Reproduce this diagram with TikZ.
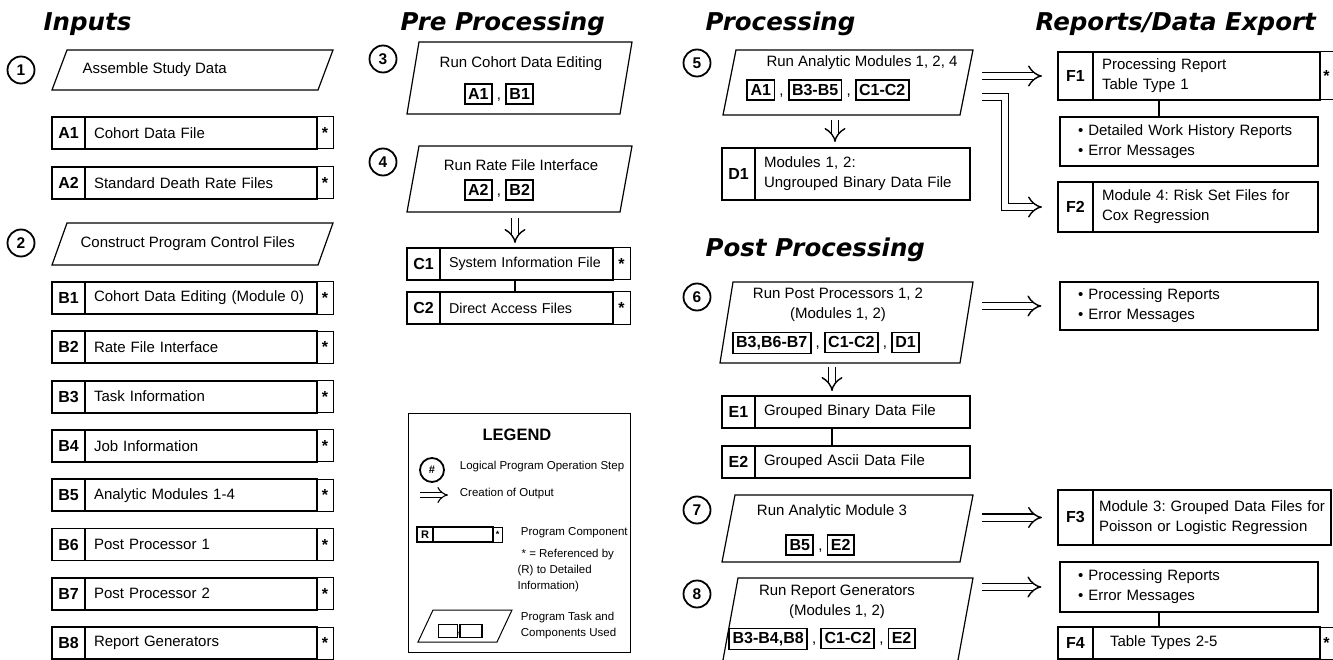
\documentclass[tikz,border=0pt]{standalone}
\usepackage{fontspec}
\setmainfont{Liberation Sans}
\newfontfamily\headfont{DejaVu Sans}[BoldFont={DejaVu Sans Bold},BoldItalicFont={DejaVu Sans Bold Oblique}]
\usetikzlibrary{arrows.meta,positioning}
\frenchspacing

\newcommand\bodyfont{\fontsize{15}{20}\selectfont}
\newcommand\labfont{\fontsize{16}{18}\selectfont\bfseries}
\newcommand\titlefont{\headfont\fontsize{24.5}{26}\selectfont\bfseries\itshape}
\newcommand\legfont{\fontsize{11.5}{16}\selectfont}
\newcommand\stepfont{\fontsize{15.5}{15.5}\selectfont\bfseries}
\setlength\fboxrule{1.7pt}
\setlength\fboxsep{2.5pt}
\newcommand\refb[1]{\fbox{\labfont\rule[-1.5pt]{0pt}{13.5pt}#1}}

\begin{document}
\begin{tikzpicture}[x=1pt,y=-1pt,line width=1.2pt,
  every node/.style={font=\bodyfont},
  colhead/.style={font=\titlefont,inner sep=0pt,anchor=base west},
  stepc/.style={circle,draw,line width=1.8pt,minimum size=27pt,inner sep=0pt,font=\stepfont},
  para/.style={line width=1.2pt,line join=miter},
  lab/.style={draw,line width=1.8pt,outer sep=0pt,inner sep=0pt,minimum width=33pt,minimum height=#1,font=\labfont},
  lab/.default=32pt,
  cell/.style={draw,line width=1.8pt,outer sep=0pt,inner xsep=9pt,inner ysep=0pt,text width=#1,align=left,minimum height=32pt},
  starc/.style={draw,line width=1pt,outer sep=0pt,inner sep=0pt,minimum width=16pt,minimum height=#1,font=\labfont},
  starc/.default=32pt,
  lst/.style={draw,line width=1.2pt,inner xsep=18pt,text width=222pt,align=left,minimum height=#1},
  dbl/.style={double,double distance=6pt,line width=1.4pt,-{Implies}}]
\fill[white] (0,0) rectangle (1333,660);
\useasboundingbox (0,0) rectangle (1333,660);
% 标题
\node[colhead] (hIn) at (43,31) {Inputs};
\node[colhead] (hPre) at (400,31) {Pre Processing};
\node[colhead] (hPro) at (705,31) {Processing};
\node[colhead] (hRep) at (1035,31) {Reports/Data Export};
\node[colhead] (hPost) at (705,257) {Post Processing};
% 输入
\node[stepc] (s1) at (21,70) {1};
\draw[para] (52,90) -- (67,50) -- (333,50) -- (318,90) -- cycle;
\node[anchor=west,inner sep=0pt] (t1) at (82,70) {Assemble Study Data};
\node[lab] (A1) at (68.5,133) {A1};
\node[cell=214pt,right=0pt of A1] (tA1) {Cohort Data File};
\node[starc,right=0pt of tA1] (sA1) {*};
\node[lab] (A2) at (68.5,183) {A2};
\node[cell=214pt,right=0pt of A2] (tA2) {Standard Death Rate Files};
\node[starc,right=0pt of tA2] (sA2) {*};
\node[stepc] (s2) at (21,243) {2};
\draw[para] (52,265) -- (67,223) -- (333,223) -- (318,265) -- cycle;
\node[anchor=west,inner sep=0pt] (t2) at (80,244) {Construct Program Control Files};
\foreach \i/\txt in {1/Cohort Data Editing (Module 0),2/Rate File Interface,
    3/Task Information,4/Job Information,5/Analytic Modules 1-4,
    6/Post Processor 1,7/Post Processor 2,8/Report Generators}{
  \node[lab] (B\i) at (68.5,{298+49.3*(\i-1)}) {B\i};
  \node[cell=214pt,right=0pt of B\i] (tB\i) {\txt};
  \node[starc,right=0pt of tB\i] (sB\i) {*};
}
% 预处理
\node[stepc] (s3) at (383,59) {3};
\draw[para] (407,114) -- (419,42) -- (632,42) -- (620,114) -- cycle;
\node (t3) at (521,64) {Run Cohort Data Editing};
\node (r3) at (499,94) {\refb{A1} , \refb{B1}};
\node[stepc] (s4) at (383,162) {4};
\draw[para] (407,212) -- (419,146) -- (632,146) -- (620,212) -- cycle;
\node (t4) at (521,165) {Run Rate File Interface};
\node (r4) at (499,190) {\refb{A2} , \refb{B2}};
\coordinate (d4) at (515,218);
\node[lab] (C1) at (423.5,264) {C1};
\node[cell=155pt,font=\fontsize{14.3}{19}\selectfont,right=0pt of C1] (tC1) {\mbox{System Information File}};
\node[starc,minimum width=17pt,right=0pt of tC1] (sC1) {*};
\node[lab] (C2) at (423.5,308) {C2};
\node[cell=155pt,font=\fontsize{14.3}{19}\selectfont,right=0pt of C2] (tC2) {Direct Access Files};
\node[starc,minimum width=17pt,right=0pt of tC2] (sC2) {*};
\draw[dbl,shorten >=5pt] (d4) -- (d4 |- tC1.north);
\draw (tC1.south -| d4) -- (tC2.north -| d4);
% 图例
\draw[line width=1pt] (408,413) rectangle (630,652);
\node[font=\fontsize{16.5}{18}\selectfont\bfseries] (lgT) at (517,435) {LEGEND};
\node[stepc,minimum size=24pt,font=\fontsize{11}{11}\selectfont\bfseries] (lgS) at (432,470) {\#};
\node[anchor=west,font=\legfont] (lg1) at (456,467) {Logical Program Operation Step};
\coordinate (lgA) at (420,495);
\coordinate (lgB) at (448,495);
\draw[dbl,double distance=4.5pt,line width=1.1pt] (lgA) -- (lgB);
\node[anchor=west,font=\legfont] (lg2) at (456,494) {Creation of Output};
\node[lab=15pt,minimum width=16pt,line width=1.4pt,font=\fontsize{11}{11}\selectfont\bfseries] (lgR) at (425,534.5) {R};
\node[cell=44pt,minimum height=15pt,inner xsep=8pt,line width=1.2pt,right=0pt of lgR] (lgM) {};
\node[starc=15pt,minimum width=9pt,line width=0.8pt,font=\fontsize{9}{9}\selectfont\bfseries,right=0pt of lgM] (lgX) {*};
\node[anchor=west,font=\legfont] (lg3) at (517,533) {Program Component};
\node[anchor=north west,font=\legfont,align=left,inner sep=0pt] (lg4) at (517,549) {\hspace*{4pt}* = Referenced by\\(R) to Detailed\\Information)};
\draw[para,line width=1pt] (418,642) -- (433,610) -- (512,610) -- (497,642) -- cycle;
\node[draw,line width=1.4pt,minimum width=19pt,minimum height=13pt,inner sep=0pt] (lgQ1) at (448,631) {};
\node[font=\legfont,inner sep=0pt] (lgC) at (459,634) {,};
\node[draw,line width=1.4pt,minimum width=22pt,minimum height=13pt,inner sep=0pt] (lgQ2) at (471,631) {};
\node[anchor=west,font=\legfont,align=left] (lg5) at (517,626) {Program Task and\\Components Used};
% 处理
\node[stepc] (s5) at (697,63) {5};
\draw[para] (723,115) -- (736,50) -- (973,50) -- (960,115) -- cycle;
\node (t5) at (862,63) {Run Analytic Modules 1, 2, 4};
\node (r5) at (828,90) {\refb{A1} , \refb{B3-B5} , \refb{C1-C2}};
\coordinate (d5) at (835,120);
\node[lab=52pt] (D1) at (738.5,174) {D1};
\node[cell=197pt,minimum height=52pt,right=0pt of D1] (tD1) {Modules 1, 2:\\Ungrouped Binary Data File};
\draw[dbl,shorten >=6pt] (d5) -- (d5 |- tD1.north);
% 后处理
\node[stepc] (s6) at (697,297) {6};
\draw[para] (720,363) -- (733,282) -- (973,282) -- (960,363) -- cycle;
\node[align=center] (t6) at (838,305) {Run Post Processors 1, 2\\(Modules 1, 2)};
\node (r6) at (826,343) {\refb{B3,B6-B7} , \refb{C1-C2} , \refb{D1}};
\coordinate (d6) at (832,367);
\node[lab] (E1) at (738.5,412) {E1};
\node[cell=197pt,right=0pt of E1] (tE1) {Grouped Binary Data File};
\node[lab] (E2) at (738.5,462) {E2};
\node[cell=197pt,right=0pt of E2] (tE2) {Grouped Ascii Data File};
\draw[dbl,shorten >=5pt] (d6) -- (d6 |- tE1.north);
\draw (tE1.south -| d6) -- (tE2.north -| d6);
\node[stepc] (s7) at (697,510) {7};
\draw[para] (722,562) -- (735,495) -- (973,495) -- (960,562) -- cycle;
\node (t7) at (832,512) {Run Analytic Module 3};
\node (r7) at (820,545) {\refb{B5} , \refb{E2}};
\node[stepc] (s8) at (697,594) {8};
\draw[para] (723,660) -- (738,578) -- (973,578) -- (958,660);
\node[align=center] (t8) at (837,602) {Run Report Generators\\(Modules 1, 2)};
\node (r8) at (822,639) {\refb{B3-B4,B8} , \refb{C1-C2} , \refb{E2}};
% 报告
\node[lab=48pt,minimum width=35pt] (F1) at (1075.5,76) {F1};
\node[cell=209pt,minimum height=48pt,right=0pt of F1] (tF1) {Processing Report\\Table Type 1};
\node[starc=48pt,minimum width=13pt,right=0pt of tF1] (sF1) {*};
\node[lst=49pt] (L1) at (1189,141.5) {• Detailed Work History Reports\\• Error Messages};
\coordinate (k1) at ([xshift=-30pt]L1.north);
\draw (k1) -- (k1 |- tF1.south);
\node[lab=50pt,minimum width=35pt] (F2) at (1075.5,207) {F2};
\node[cell=207pt,minimum height=50pt,right=0pt of F2] (tF2) {Module 4: Risk Set Files for\\Cox Regression};
\coordinate (a5) at (982,76);
\coordinate (b5) at (982,97);
\draw[dbl,shorten >=16pt] (a5) -- (a5 -| F1.west);
\draw[dbl,shorten >=16pt] (b5) -- ++(23,0) |- (F2.west);
\node[lst=48pt] (L6) at (1189,306) {• Processing Reports\\• Error Messages};
\coordinate (a6) at (982,306);
\draw[dbl,shorten >=18pt] (a6) -- (L6.west);
\node[lab=55pt,minimum width=35pt] (F3) at (1075.5,517.5) {F3};
\node[cell=230pt,inner xsep=4pt,minimum height=55pt,right=0pt of F3] (tF3) {\hspace*{2pt}Module 3: Grouped Data Files for\\\hspace*{2pt}Poisson or Logistic Regression};
\coordinate (a7) at (982,517.5);
\draw[dbl,shorten >=16pt] (a7) -- (F3.west);
\node[lst=50pt] (L8) at (1189,587) {• Processing Reports\\• Error Messages};
\coordinate (a8) at (982,587);
\draw[dbl,shorten >=18pt] (a8) -- (L8.west);
\node[lab,minimum width=35pt] (F4) at (1075.5,643) {F4};
\node[cell=209pt,right=0pt of F4] (tF4) {\hspace*{8pt}Table Types 2-5};
\node[starc,minimum width=13pt,right=0pt of tF4] (sF4) {*};
\coordinate (k8) at ([xshift=-30pt]L8.south);
\draw (k8) -- (k8 |- tF4.north);
\end{tikzpicture}
\end{document}
